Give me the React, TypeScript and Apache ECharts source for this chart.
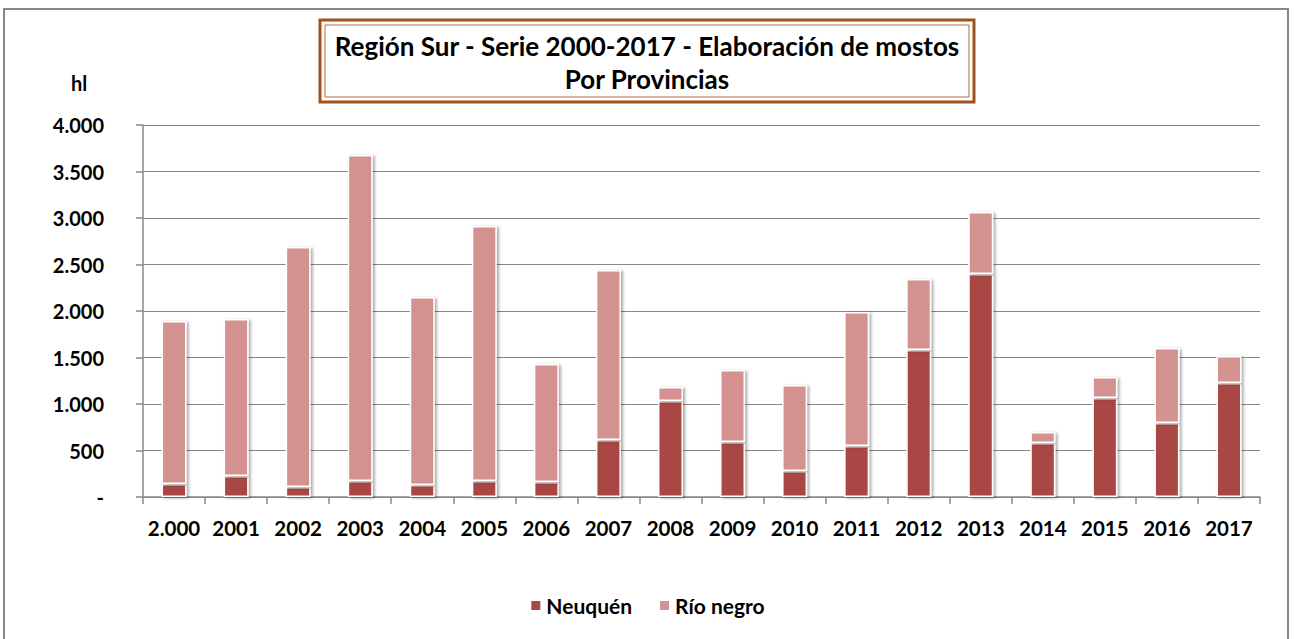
import React, { useEffect, useRef } from "react";
import * as echarts from "echarts";

const years = ["2.000", "2001", "2002", "2003", "2004", "2005", "2006", "2007", "2008", "2009", "2010", "2011", "2012", "2013", "2014", "2015", "2016", "2017"];
const neuquen = [140, 226, 108, 172, 129, 172, 161, 613, 1032, 591, 280, 548, 1580, 2397, 580, 1064, 796, 1226];
const rioNegro = [1752, 1688, 2580, 3505, 2021, 2741, 1269, 1827, 151, 774, 924, 1441, 764, 667, 119, 226, 806, 290];
const titleLines = ["Región Sur - Serie 2000-2017 - Elaboración de mostos", "Por Provincias"];

const FONT = "Lato, 'Open Sans', sans-serif";

export default function App() {
  const ref = useRef<HTMLDivElement>(null);
  useEffect(() => {
    if (!ref.current) return;
    const chart = echarts.init(ref.current, null, { renderer: "svg" });
    const shadow = { shadowBlur: 3, shadowColor: "rgba(0,0,0,0.35)", shadowOffsetX: 2, shadowOffsetY: 1 };
    chart.setOption({
      animation: false,
      backgroundColor: "#fff",
      textStyle: { fontFamily: FONT },
      grid: { left: 143, right: 34, top: 125, bottom: 142 },
      graphic: [
        { type: "rect", shape: { x: 4, y: 9, width: 1284, height: 640 }, style: { fill: "none", stroke: "#888", lineWidth: 2 }, silent: true },
        { type: "rect", shape: { x: 320, y: 20, width: 654, height: 82 }, style: { fill: "#fff", stroke: "#A0521E", lineWidth: 3 }, silent: true },
        { type: "rect", shape: { x: 325, y: 25, width: 644, height: 72 }, style: { fill: "none", stroke: "#B06A40", lineWidth: 1 }, silent: true },
        { type: "text", x: 647, y: 46, style: { text: titleLines[0], font: `bold 26px ${FONT}`, fill: "#000", textAlign: "center", textVerticalAlign: "middle" } },
        { type: "text", x: 647, y: 79, style: { text: titleLines[1], font: `bold 26px ${FONT}`, fill: "#000", textAlign: "center", textVerticalAlign: "middle" } },
        { type: "text", x: 79, y: 83, style: { text: "hl", font: `bold 20px ${FONT}`, fill: "#000", textAlign: "center", textVerticalAlign: "middle" } }
      ],
      legend: {
        bottom: 18,
        left: "center",
        itemWidth: 11,
        itemHeight: 11,
        itemGap: 26,
        icon: "rect",
        textStyle: { fontFamily: FONT, fontWeight: "bold", fontSize: 21, color: "#000" },
        data: ["Neuquén", "Río negro"]
      },
      xAxis: {
        type: "category",
        data: years,
        axisLine: { lineStyle: { color: "#888", width: 1.5 } },
        axisTick: { show: true, length: 7, lineStyle: { color: "#888", width: 1.5 } },
        axisLabel: { margin: 20, fontFamily: FONT, fontWeight: "bold", fontSize: 20.5, color: "#000", interval: 0 }
      },
      yAxis: {
        type: "value",
        min: 0,
        max: 4000,
        interval: 500,
        axisLine: { show: true, lineStyle: { color: "#888", width: 1.5 } },
        axisTick: { show: true, length: 7, lineStyle: { color: "#888", width: 1.5 } },
        splitLine: { lineStyle: { color: "#888", width: 1 } },
        axisLabel: {
          margin: 39,
          fontFamily: FONT,
          fontWeight: "bold",
          fontSize: 20,
          color: "#000",
          formatter: (v: number) => (v === 0 ? "-" : v.toString().replace(/\B(?=(\d{3})+(?!\d))/g, "."))
        }
      },
      series: [
        {
          name: "Neuquén",
          type: "bar",
          stack: "t",
          barWidth: 25,
          data: neuquen,
          itemStyle: { color: "#A94744", borderColor: "#fff", borderWidth: 1.5, ...shadow }
        },
        {
          name: "Río negro",
          type: "bar",
          stack: "t",
          barWidth: 25,
          data: rioNegro,
          itemStyle: { color: "#D39190", borderColor: "#fff", borderWidth: 1.5, ...shadow }
        }
      ]
    });
    return () => chart.dispose();
  }, []);
  return <div ref={ref} style={{ width: 1294, height: 639, position: "absolute", left: 0, top: 0 }} />;
}
